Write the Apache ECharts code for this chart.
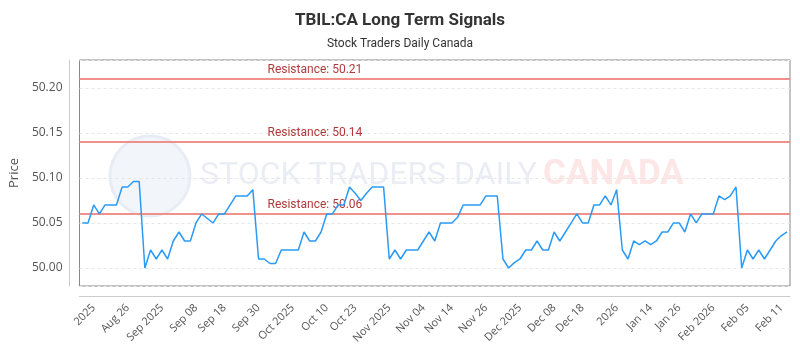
<!DOCTYPE html>
<html>
<head>
<meta charset="utf-8">
<script src="https://cdn.jsdelivr.net/npm/echarts@6/dist/echarts.min.js"></script>
<style>
  html, body { margin: 0; padding: 0; background: #ffffff; }
  #chart { width: 800px; height: 350px; }
</style>
</head>
<body>
<div id="chart"></div>
<script>
// ---- data ----
const titleText = 'TBIL:CA Long Term Signals';
const subtitleText = 'Stock Traders Daily Canada';
const yAxisName = 'Price';

// 125 trading days (weekdays) starting Aug 21 2025
const startDate = '2025-08-21';
const pointCount = 125;

const prices = [
  50.05, 50.05, 50.07, 50.06, 50.07, 50.07, 50.07, 50.09, 50.09, 50.096,
  50.096, 50.00, 50.02, 50.01, 50.02, 50.01, 50.03, 50.04, 50.03, 50.03,
  50.05, 50.06, 50.055, 50.05, 50.06, 50.06, 50.07, 50.08, 50.08, 50.08,
  50.087, 50.01, 50.01, 50.005, 50.005, 50.02, 50.02, 50.02, 50.02, 50.04,
  50.03, 50.03, 50.04, 50.06, 50.06, 50.07, 50.07, 50.09, 50.083, 50.075,
  50.083, 50.09, 50.09, 50.09, 50.01, 50.02, 50.01, 50.02, 50.02, 50.02,
  50.03, 50.04, 50.03, 50.05, 50.05, 50.05, 50.056, 50.07, 50.07, 50.07,
  50.07, 50.08, 50.08, 50.08, 50.01, 50.00, 50.006, 50.01, 50.02, 50.02,
  50.03, 50.02, 50.02, 50.04, 50.03, 50.04, 50.05, 50.06, 50.05, 50.05,
  50.07, 50.07, 50.08, 50.07, 50.087, 50.02, 50.01, 50.03, 50.026, 50.03,
  50.026, 50.03, 50.04, 50.04, 50.05, 50.05, 50.04, 50.06, 50.05, 50.06,
  50.06, 50.06, 50.08, 50.076, 50.08, 50.09, 50.00, 50.02, 50.01, 50.02,
  50.01, 50.02, 50.03, 50.036, 50.04
];

const resistanceLevels = [50.21, 50.14, 50.06];

const tickIndex = [2, 8, 14, 20, 25, 31, 37, 43, 48, 54, 60, 65, 71, 77, 83, 88, 94, 100, 105, 111, 117, 123];
const tickText = ['2025', 'Aug 26', 'Sep 2025', 'Sep 08', 'Sep 18', 'Sep 30', 'Oct 2025', 'Oct 10', 'Oct 23',
  'Nov 2025', 'Nov 04', 'Nov 14', 'Nov 26', 'Dec 2025', 'Dec 08', 'Dec 18', '2026', 'Jan 14', 'Jan 26',
  'Feb 2026', 'Feb 05', 'Feb 11'];

const yMin = 49.98;
const yMax = 50.231;
const yStep = 0.05;

// ---- build categories (weekday dates) ----
const categories = [];
(function () {
  const d = new Date(startDate + 'T00:00:00Z');
  while (categories.length < pointCount) {
    const wd = d.getUTCDay();
    if (wd !== 0 && wd !== 6) categories.push(d.toISOString().slice(0, 10));
    d.setUTCDate(d.getUTCDate() + 1);
  }
})();

const tickMap = {};
tickIndex.forEach((idx, k) => { tickMap[idx] = tickText[k]; });

const chart = echarts.init(document.getElementById('chart'), null, { renderer: 'canvas' });

const option = {
  backgroundColor: '#ffffff',
  animation: false,
  title: {
    text: titleText,
    subtext: subtitleText,
    left: 'center',
    top: 7,
    itemGap: 9,
    textStyle: { fontFamily: 'Roboto', fontSize: 17, fontWeight: 'bold', color: '#333333' },
    subtextStyle: { fontFamily: 'Roboto', fontSize: 12, color: '#333333' }
  },
  graphic: [
    { type: 'circle', z: -10, shape: { cx: 150, cy: 176, r: 40 }, style: { fill: '#f2f5fa', stroke: '#e8edf5', lineWidth: 3 } },
    { type: 'text', z: -10, left: 200, top: 160,
      style: { text: 'STOCK TRADERS DAILY', fontFamily: 'Roboto', fontSize: 32, fontWeight: 'normal', fill: '#eaeef4' } },
    { type: 'text', z: -10, left: 543, top: 158,
      style: { text: 'CANADA', fontFamily: 'Roboto', fontSize: 35, fontWeight: 'bold', fill: '#fde6e6' } }
  ],
  grid: {
    left: 77, right: 10, top: 60, bottom: 64,
    show: true, borderColor: '#888888', borderWidth: 1, backgroundColor: 'transparent'
  },
  xAxis: {
    type: 'category',
    data: categories,
    boundaryGap: true,
    offset: 10,
    axisLine: { show: true, lineStyle: { color: '#cccccc' } },
    axisTick: { show: false },
    splitLine: { show: false },
    axisLabel: {
      rotate: 45,
      margin: 10,
      fontFamily: 'Open Sans',
      fontSize: 11,
      color: '#555555',
      interval: (idx) => tickMap[idx] !== undefined,
      formatter: (val, idx) => tickMap[idx] || ''
    }
  },
  yAxis: {
    type: 'value',
    min: yMin,
    max: yMax,
    minInterval: yStep,
    maxInterval: yStep,
    offset: 10,
    name: yAxisName,
    nameLocation: 'middle',
    nameGap: 46,
    nameTextStyle: { fontFamily: 'Open Sans', fontSize: 13, color: '#555555' },
    axisLine: { show: true, lineStyle: { color: '#cccccc' } },
    axisTick: { show: false },
    axisLabel: {
      margin: 7,
      fontFamily: 'Open Sans',
      fontSize: 12,
      color: '#555555',
      showMinLabel: false,
      showMaxLabel: false,
      formatter: (v) => v.toFixed(2)
    },
    splitLine: { show: true, lineStyle: { color: '#e6e6e6', type: [3, 3] } }
  },
  series: [{
    type: 'line',
    data: prices,
    showSymbol: false,
    symbol: 'none',
    lineStyle: { color: '#2b9af5', width: 1.5 },
    z: 5,
    markLine: {
      silent: true,
      symbol: 'none',
      lineStyle: { color: '#f0908a', width: 2, type: 'solid' },
      label: {
        show: true,
        position: 'insideStartTop',
        distance: [188, 3],
        fontFamily: 'Roboto',
        fontSize: 12,
        color: '#b03a3a',
        formatter: (p) => 'Resistance: ' + Number(p.value).toFixed(2)
      },
      data: resistanceLevels.map(v => ({ yAxis: v }))
    }
  }]
};

chart.setOption(option);
</script>
</body>
</html>
